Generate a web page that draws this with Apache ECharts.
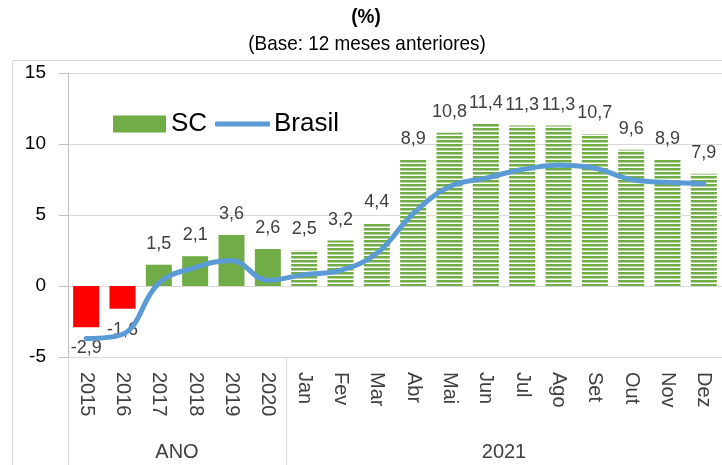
<!DOCTYPE html>
<html>
<head>
<meta charset="utf-8">
<script src="https://cdn.jsdelivr.net/npm/echarts@6/dist/echarts.min.js"></script>
<style>
  html, body { margin: 0; padding: 0; background: #fff; }
  #chart { width: 722px; height: 465px; }
</style>
</head>
<body>
<div id="chart"></div>
<script>
// categorias do eixo
var categorias = ['2015', '2016', '2017', '2018', '2019', '2020',
    'Jan', 'Fev', 'Mar', 'Abr', 'Mai', 'Jun', 'Jul', 'Ago', 'Set', 'Out', 'Nov', 'Dez'];
// SC (barras)
var valoresSC = [-2.9, -1.6, 1.5, 2.1, 3.6, 2.6,
    2.5, 3.2, 4.4, 8.9, 10.8, 11.4, 11.3, 11.3, 10.7, 9.6, 8.9, 7.9];
// Brasil (linha)
var valoresBrasil = [-3.7, -3.4, 0.2, 1.3, 1.8, 0.4,
    0.8, 1.1, 2.3, 5.1, 7.0, 7.6, 8.2, 8.5, 8.3, 7.5, 7.3, 7.2];
// grupos do eixo
var grupos = ['ANO', '2021'];
var limitesGrupos = [0, 6, 18];

var verde = '#70ad47';
var vermelho = '#ff0000';
var azul = '#5b9bd5';
var nAnos = 6;

// textura listrada para os meses de 2021
var cv = document.createElement('canvas');
cv.width = 4; cv.height = 4;
var ctx = cv.getContext('2d');
ctx.fillStyle = '#fff'; ctx.fillRect(0, 0, 4, 4);
ctx.fillStyle = verde; ctx.fillRect(0, 0, 4, 2);
ctx.fillStyle = '#b4d69c'; ctx.fillRect(0, 2, 4, 1);

function fmt(v) { return v.toFixed(1).replace('.', ','); }

var dadosSC = valoresSC.map(function (v, i) {
    var item = { value: v };
    if (v < 0) {
        item.itemStyle = { color: vermelho };
        item.label = { position: 'bottom' };
    } else if (i < nAnos) {
        item.itemStyle = { color: verde };
    } else {
        item.itemStyle = { color: { image: cv, repeat: 'repeat' } };
    }
    return item;
});

var chart = echarts.init(document.getElementById('chart'));
var fonte = '"Liberation Sans", Arial, sans-serif';

var option = {
    backgroundColor: '#fff',
    animation: false,
    graphic: [{
        type: 'polyline',
        shape: { points: [[12.5, 500], [12.5, 60.5], [740, 60.5]] },
        style: { stroke: '#d9d9d9', lineWidth: 1, fill: null },
        z: 0
    }, {
        type: 'text', x: 366, y: 17,
        style: { text: '(%)', align: 'center', verticalAlign: 'middle', font: 'bold 21px "Liberation Sans", sans-serif', fill: '#000' },
        scaleX: 0.9
    }, {
        type: 'text', x: 367, y: 44,
        style: { text: '(Base: 12 meses anteriores)', align: 'center', verticalAlign: 'middle', font: '21px "Liberation Sans", sans-serif', fill: '#000' },
        scaleX: 0.9
    }],
    legend: [{
        left: 113,
        top: 111,
        padding: 0,
        itemWidth: 53,
        itemHeight: 17,
        textStyle: { fontFamily: fonte, fontSize: 26, color: '#000' },
        data: [{ name: 'SC', icon: 'rect', itemStyle: { color: verde } }]
    }, {
        left: 215,
        top: 111,
        padding: 0,
        itemWidth: 55,
        itemHeight: 5,
        textStyle: { fontFamily: fonte, fontSize: 26, color: '#000', padding: [0, 0, 0, -1] },
        data: [{ name: 'Brasil', icon: 'roundRect', itemStyle: { color: azul } }]
    }],
    grid: { left: 68, right: -4.5, top: 73, bottom: 108 },
    xAxis: [{
        type: 'category',
        data: categorias,
        axisLine: { onZero: false, lineStyle: { color: '#d9d9d9' } },
        axisTick: { show: false },
        axisLabel: { rotate: -90, margin: 15, fontFamily: fonte, fontSize: 20, color: '#404040' }
    }, {
        type: 'value',
        position: 'bottom',
        min: 0, max: 18,
        axisLine: { show: false, onZero: false },
        splitLine: { show: false },
        axisTick: { show: true, customValues: limitesGrupos, length: 110, lineStyle: { color: '#d9d9d9' } },
        axisLabel: {
            customValues: [3, 12],
            margin: 85,
            fontFamily: fonte, fontSize: 20, color: '#404040',
            formatter: function (v) { return v === 3 ? grupos[0] : grupos[1]; }
        }
    }],
    yAxis: {
        type: 'value',
        min: -5, max: 15, interval: 5,
        axisLine: { show: true, lineStyle: { color: '#bfbfbf' } },
        axisTick: { show: true, length: 9, lineStyle: { color: '#bfbfbf' } },
        splitLine: { lineStyle: { color: '#d9d9d9' } },
        axisLabel: { margin: 22, fontFamily: fonte, fontSize: 19, color: '#000' }
    },
    series: [{
        name: 'SC',
        type: 'bar',
        data: dadosSC,
        barWidth: 26,
        itemStyle: { color: verde },
        label: {
            show: true,
            position: 'top',
            distance: 12,
            fontFamily: fonte,
            fontSize: 18,
            color: '#404040',
            formatter: function (p) { return fmt(p.value); }
        }
    }, {
        name: 'Brasil',
        type: 'line',
        data: valoresBrasil,
        smooth: 0.4,
        symbol: 'none',
        lineStyle: { color: azul, width: 5, cap: 'round' },
        itemStyle: { color: azul }
    }]
};
chart.setOption(option);
</script>
</body>
</html>
